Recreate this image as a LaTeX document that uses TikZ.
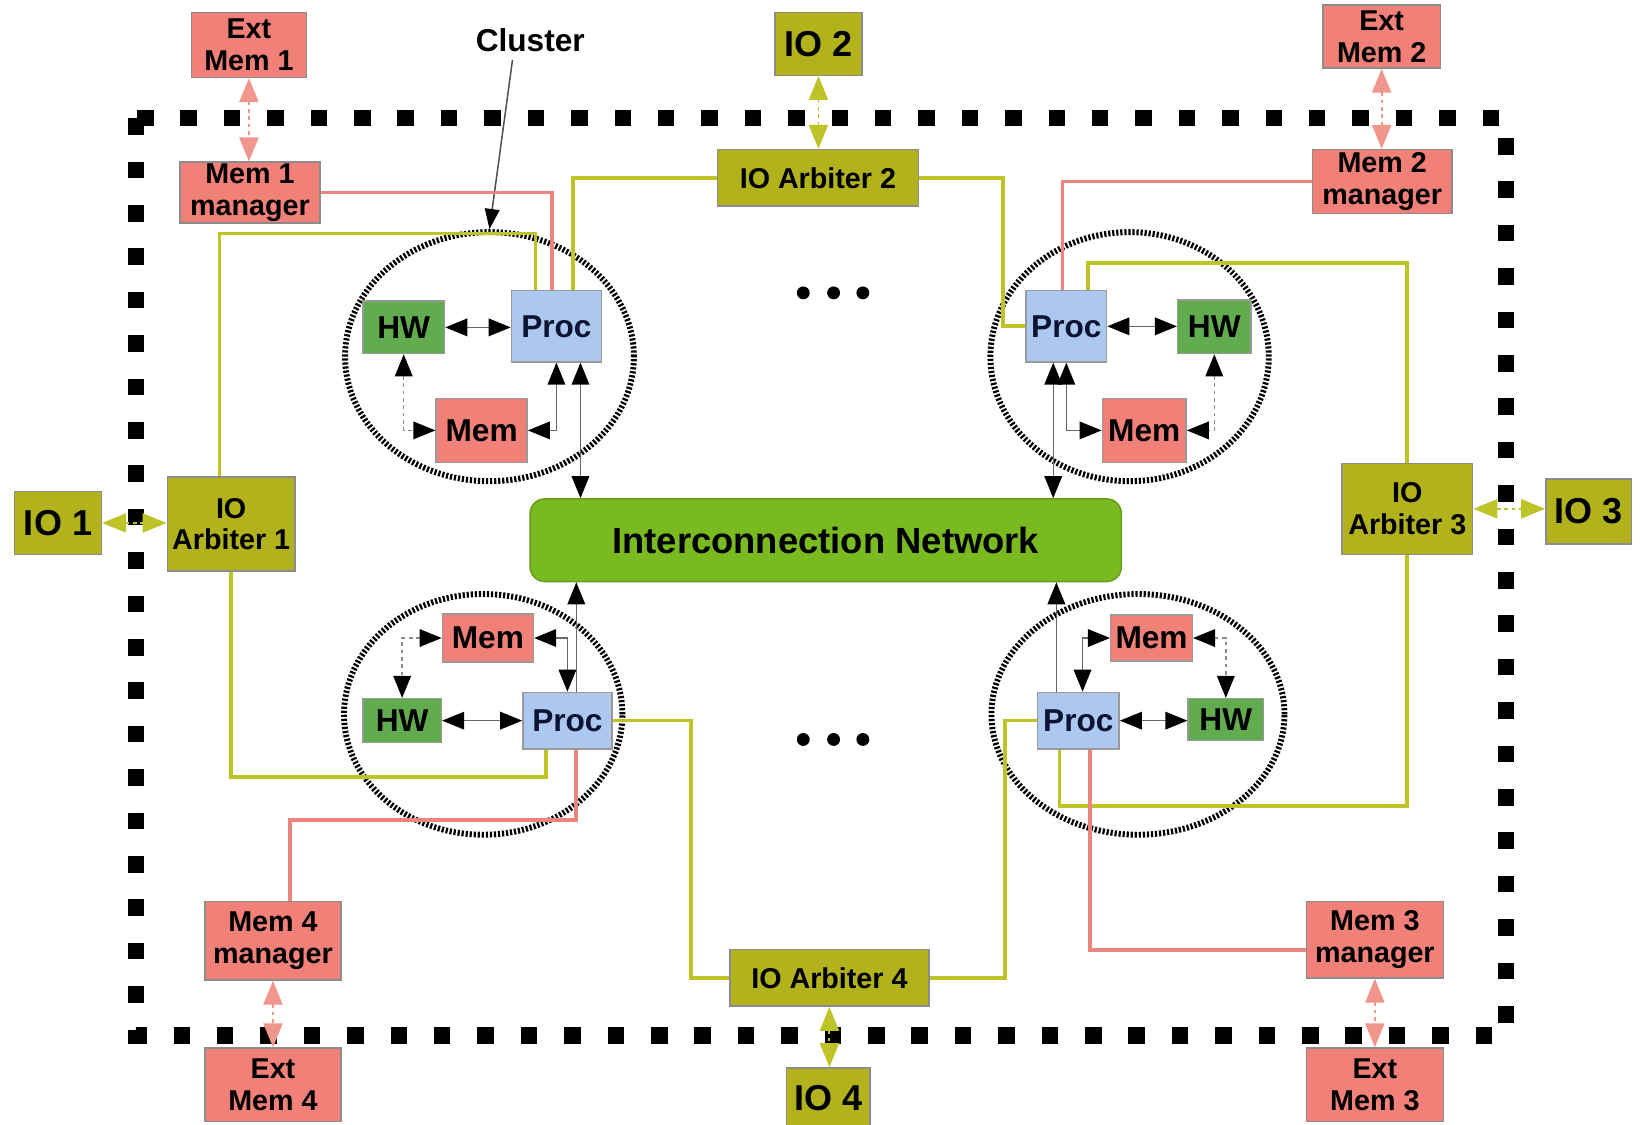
\documentclass[tikz,border=0pt]{standalone}
\usepackage{fontspec}
\setmainfont{Liberation Sans}
\usetikzlibrary{arrows.meta,calc,shapes.geometric}

\definecolor{salmon}{RGB}{240,128,120}
\definecolor{salmonline}{RGB}{238,132,126}
\definecolor{salmonhead}{RGB}{240,150,140}
\definecolor{olivebox}{RGB}{178,178,28}
\definecolor{oliveline}{RGB}{190,196,40}
\definecolor{procblue}{RGB}{172,200,238}
\definecolor{hwgreen}{RGB}{98,172,80}
\definecolor{netgreen}{RGB}{120,186,32}
\definecolor{proctext}{RGB}{10,20,50}

\tikzset{
  BlkTip/.tip={Triangle[length=6pt,width=4.8pt,color=black]},
  SalTip/.tip={Triangle[length=6.5pt,width=5.2pt,color=salmonhead]},
  OlvTip/.tip={Triangle[length=6.5pt,width=5.2pt,color=oliveline]},
}

\begin{document}
\begin{tikzpicture}[x=0.01cm,y=-0.01cm,
  box/.style={draw=black!45, line width=0.4pt, inner sep=0pt, align=center,
    font=\bfseries\fontsize{7.8}{8.6}\selectfont},
  salbox/.style={box, fill=salmon},
  olbox/.style={box, fill=olivebox},
  iobox/.style={box, fill=olivebox, font=\bfseries\fontsize{9.8}{11}\selectfont},
  unitbox/.style={draw=black!40, line width=0.4pt, inner sep=0pt,
    font=\bfseries\fontsize{8.6}{9}\selectfont},
  procbox/.style={unitbox, fill=procblue, text=proctext},
  hwbox/.style={unitbox, fill=hwgreen},
  membox/.style={unitbox, fill=salmon},
  netbox/.style={fill=netgreen, draw=netgreen!85!black, line width=0.4pt,
    rounded corners=4pt, inner sep=0pt, font=\bfseries\fontsize{9.9}{11}\selectfont},
  cluster/.style={ellipse, draw=black, line width=1.6pt,
    dash pattern=on 0.6pt off 0.5pt, inner sep=0pt},
  border/.style={line width=4.5pt, dash pattern=on 4.5pt off 7.3pt},
  link/.style={draw=black!60, line width=0.4pt, BlkTip-BlkTip},
  linkdot/.style={link, draw=black!45, dash pattern=on 1pt off 1pt},
  linkone/.style={draw=black!60, line width=0.4pt, -BlkTip},
  salarrow/.style={draw=salmonhead, line width=0.5pt, dash pattern=on 1pt off 1pt, SalTip-SalTip},
  olvarrow/.style={draw=oliveline, line width=0.5pt, dash pattern=on 1pt off 1pt, OlvTip-OlvTip},
  sline/.style={draw=salmonline, line width=1.0pt},
  oline/.style={draw=oliveline, line width=1.0pt},
  labeltext/.style={inner sep=1pt, font=\bfseries\fontsize{8.6}{9}\selectfont}
]
\useasboundingbox (0,0) rectangle (1568,1075);
\fill[white] (0,0) rectangle (1568,1075);

% outer dotted border
\draw[border] (130,113) rectangle (1440,990);

% clusters
\node[cluster, minimum width=2.76cm, minimum height=2.38cm] (ell1) at (468,341) {};
\node[cluster, minimum width=2.66cm, minimum height=2.38cm] (ell2) at (1080,341) {};
\node[cluster, minimum width=2.66cm, minimum height=2.30cm] (ell3) at (462,683) {};
\node[cluster, minimum width=2.80cm, minimum height=2.30cm] (ell4) at (1088,683) {};

% cluster 1 units
\node[hwbox, minimum width=0.78cm, minimum height=0.50cm] (hw1) at (386,313) {HW};
\node[procbox, minimum width=0.86cm, minimum height=0.68cm] (p1) at (532,312) {Proc};
\node[membox, minimum width=0.87cm, minimum height=0.61cm] (m1) at (460.5,411.5) {Mem};
% cluster 2 units
\node[procbox, minimum width=0.77cm, minimum height=0.68cm] (p2) at (1019.5,312) {Proc};
\node[hwbox, minimum width=0.70cm, minimum height=0.51cm] (hw2) at (1161,312.5) {HW};
\node[membox, minimum width=0.80cm, minimum height=0.61cm] (m2) at (1094,411.5) {Mem};
% cluster 3 units
\node[membox, minimum width=0.87cm, minimum height=0.46cm] (m3) at (466.5,610) {Mem};
\node[hwbox, minimum width=0.75cm, minimum height=0.42cm] (hw3) at (384.5,689) {HW};
\node[procbox, minimum width=0.85cm, minimum height=0.54cm] (p3) at (542.5,689) {Proc};
% cluster 4 units
\node[membox, minimum width=0.78cm, minimum height=0.44cm] (m4) at (1101,610) {Mem};
\node[procbox, minimum width=0.78cm, minimum height=0.54cm] (p4) at (1031,689) {Proc};
\node[hwbox, minimum width=0.72cm, minimum height=0.40cm] (hw4) at (1172,688) {HW};

% peripheral boxes
\node[salbox, minimum width=1.10cm, minimum height=0.62cm] (em1) at (238,43) {Ext\\Mem 1};
\node[salbox, minimum width=1.34cm, minimum height=0.58cm] (mm1) at (239,184) {Mem 1\\manager};
\node[iobox, minimum width=0.83cm, minimum height=0.60cm] (io2) at (782.5,42) {IO 2};
\node[olbox, minimum width=1.92cm, minimum height=0.54cm] (arb2) at (782,170) {IO Arbiter 2};
\node[salbox, minimum width=1.12cm, minimum height=0.60cm] (em2) at (1321,35) {Ext\\Mem 2};
\node[salbox, minimum width=1.33cm, minimum height=0.61cm] (mm2) at (1321.5,173.5) {Mem 2\\manager};
\node[iobox, minimum width=0.83cm, minimum height=0.60cm] (io1) at (55.5,500) {IO 1};
\node[olbox, minimum width=1.22cm, minimum height=0.90cm] (arb1) at (221,501) {IO\\Arbiter 1};
\node[olbox, minimum width=1.25cm, minimum height=0.87cm] (arb3) at (1345.5,486.5) {IO\\Arbiter 3};
\node[iobox, minimum width=0.82cm, minimum height=0.62cm] (io3) at (1519,489) {IO 3};
\node[netbox, minimum width=5.65cm, minimum height=0.79cm] (net) at (789.5,516.5) {Interconnection Network};
\node[salbox, minimum width=1.30cm, minimum height=0.75cm] (mm4) at (261,899.5) {Mem 4\\manager};
\node[salbox, minimum width=1.30cm, minimum height=0.70cm] (em4) at (261,1037) {Ext\\Mem 4};
\node[olbox, minimum width=1.90cm, minimum height=0.54cm] (arb4) at (793,935) {IO Arbiter 4};
\node[iobox, minimum width=0.80cm, minimum height=0.58cm] (io4) at (792,1050) {IO 4};
\node[salbox, minimum width=1.31cm, minimum height=0.73cm] (mm3) at (1314.5,898.5) {Mem 3\\manager};
\node[salbox, minimum width=1.31cm, minimum height=0.70cm] (em3) at (1314.5,1037) {Ext\\Mem 3};

% cluster label
\node[labeltext] (cl) at (507,38) {Cluster};
\draw[draw=black!70, line width=0.4pt, -{Triangle[length=5.5pt,width=4pt,color=black]}]
  ($(cl.south)+(-17,4)$) -- (ell1.north);

% ellipsis dots
\foreach \x in {768,797,825} {
  \fill (\x,280) circle[radius=1.75pt];
  \fill (\x,707) circle[radius=1.75pt];
}

% ---- cluster 1 connectors
\draw[link] (hw1.east) -- (hw1.east -| p1.west);
\draw[linkdot] (hw1.south) |- (m1.west);
\draw[link] (m1.east) -| (p1.south);
\coordinate (c1net) at ($(p1.south)+(23,0)$);
\draw[link] (c1net) -- (c1net |- net.north);
\coordinate (c1ol) at ($(p1.north)+(-20,0)$);
\coordinate (c1sl) at ($(p1.north)+(-4,0)$);
\coordinate (c1or) at ($(p1.north)+(16,0)$);
\coordinate (a1top) at ($(arb1.north)+(-11,0)$);
\draw[oline] (a1top) |- ($(c1ol)+(0,-54)$) -- (c1ol);
\draw[sline] (mm1.east) -| (c1sl);
\draw[oline] (c1or) |- (arb2.west);

% ---- cluster 2 connectors
\draw[link] (p2.east) -- (p2.east -| hw2.west);
\draw[linkdot] (hw2.south) |- (m2.east);
\draw[link] (p2.south) |- (m2.west);
\coordinate (c2net) at ($(p2.south)+(-12.5,0)$);
\draw[link] (c2net) -- (c2net |- net.north);
\draw[oline] (arb2.east) -| ($(p2.west)+(-21,0)$) -- (p2.west);
\coordinate (c2sl) at ($(p2.north)+(-3.5,0)$);
\draw[sline] (mm2.west) -| (c2sl);
\coordinate (c2ol) at ($(p2.north)+(20.5,0)$);
\draw[oline] (c2ol) -- ++(0,-26) -| (arb3.north);
\draw[oline] (arb3.south) -- ++(0,240) -| ($(p4.south)+(-18,0)$);

% ---- IO and external memory arrows
\draw[olvarrow] (io1.east) -- (io1.east -| arb1.west);
\draw[olvarrow] (arb3.east) -- (arb3.east -| io3.west);
\draw[olvarrow] (io2.south) -- (io2.south |- arb2.north);
\draw[olvarrow] (arb4.south) -- (arb4.south |- io4.north);
\draw[salarrow] (em1.south) -- (em1.south |- mm1.north);
\draw[salarrow] (em2.south) -- (em2.south |- mm2.north);
\draw[salarrow] (mm4.south) -- (mm4.south |- em4.north);
\draw[salarrow] (mm3.south) -- (mm3.south |- em3.north);

% ---- cluster 3 connectors
\draw[link] (hw3.east) -- (hw3.east -| p3.west);
\draw[linkdot] (m3.west) -| (hw3.north);
\draw[link] (m3.east) -| (p3.north);
\coordinate (c3net) at ($(p3.north)+(8.5,0)$);
\draw[linkone] (c3net) -- (c3net |- net.south);
\draw[oline] (arb1.south) -- ++(0,196) -| ($(p3.south)+(-20.5,0)$);
\coordinate (c3sl) at ($(p3.south)+(8.5,0)$);
\draw[sline] (c3sl) -- ++(0,67) -| ($(mm4.north)+(16,0)$);
\draw[oline] (p3.east) -- ++(75,0) |- (arb4.west);

% ---- cluster 4 connectors
\draw[link] (p4.east) -- (p4.east -| hw4.west);
\draw[link] (m4.west) -| ($(p4.north)+(4,0)$);
\draw[linkdot] (m4.east) -| (hw4.north);
\coordinate (c4net) at ($(p4.north)+(-21,0)$);
\draw[linkone] (c4net) -- (c4net |- net.south);
\draw[oline] (arb4.east) -- ++(72,0) |- (p4.west);
\draw[sline] ($(p4.south)+(11,0)$) |- ($(mm3.west)+(0,9.5)$);
\end{tikzpicture}
\end{document}
